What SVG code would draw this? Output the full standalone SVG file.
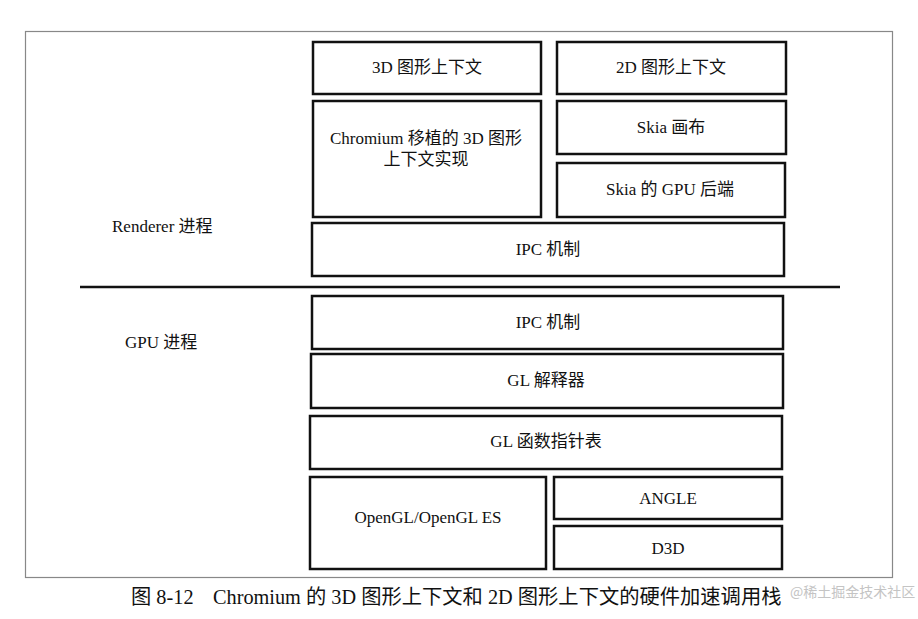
<svg xmlns="http://www.w3.org/2000/svg" width="918" height="619" viewBox="0 0 918 619">
<style>
.box{fill:#fff;stroke:#111;stroke-width:2.5}
.t{font-family:"Liberation Serif","Noto Sans CJK SC",serif;font-size:17px;fill:#111;text-anchor:middle}
.l{font-family:"Liberation Serif","Noto Sans CJK SC",serif;font-size:17px;fill:#111}
.cap{font-family:"Liberation Serif","Noto Sans CJK SC",serif;font-size:20.3px;fill:#111}
.wm{font-family:"Noto Sans CJK SC",sans-serif;font-size:14px;fill:#c4c4c4}
</style>
<rect x="0" y="0" width="918" height="619" fill="#fff"/>
<rect id="frame" x="25.5" y="31.5" width="867" height="546" fill="none" stroke="#888" stroke-width="1.2"/>
<g id="labels">
<text class="l" x="112" y="232">Renderer 进程</text>
<text class="l" x="125" y="348">GPU 进程</text>
</g>
<g id="divider"><line x1="80" y1="287" x2="840" y2="287" stroke="#111" stroke-width="2.5"/></g>
<g id="n3d"><rect class="box" x="313" y="42" width="228" height="52"/><text class="t" x="427" y="73">3D 图形上下文</text></g>
<g id="n2d"><rect class="box" x="557" y="42" width="229" height="52"/><text class="t" x="671" y="73">2D 图形上下文</text></g>
<g id="nchromium"><rect class="box" x="313" y="101" width="228" height="116"/><text class="t" x="426" y="144">Chromium 移植的 3D 图形</text><text class="t" x="426" y="165">上下文实现</text></g>
<g id="nskiacanvas"><rect class="box" x="557" y="101" width="229" height="53"/><text class="t" x="671" y="133">Skia 画布</text></g>
<g id="nskiagpu"><rect class="box" x="557" y="163" width="228" height="54"/><text class="t" x="670" y="195">Skia 的 GPU 后端</text></g>
<g id="nipcr"><rect class="box" x="312" y="223" width="472" height="53"/><text class="t" x="548" y="255">IPC 机制</text></g>
<g id="nipcg"><rect class="box" x="312" y="296" width="471" height="53"/><text class="t" x="548" y="328">IPC 机制</text></g>
<g id="nglinterp"><rect class="box" x="311" y="354" width="472" height="54"/><text class="t" x="546" y="386">GL 解释器</text></g>
<g id="nglfunc"><rect class="box" x="310" y="416" width="472" height="53"/><text class="t" x="546" y="447">GL 函数指针表</text></g>
<g id="nopengl"><rect class="box" x="310" y="477" width="236" height="92"/><text class="t" x="428" y="523">OpenGL/OpenGL ES</text></g>
<g id="nangle"><rect class="box" x="554" y="477" width="228" height="42"/><text class="t" x="668" y="504">ANGLE</text></g>
<g id="nd3d"><rect class="box" x="554" y="526" width="228" height="43"/><text class="t" x="668" y="554">D3D</text></g>
<g id="caption">
<text class="cap" x="131" y="604">图 8-12</text>
<text class="cap" x="213" y="604">Chromium 的 3D 图形上下文和 2D 图形上下文的硬件加速调用栈</text>
</g>
<text class="wm" x="790" y="597">@稀土掘金技术社区</text>
</svg>
